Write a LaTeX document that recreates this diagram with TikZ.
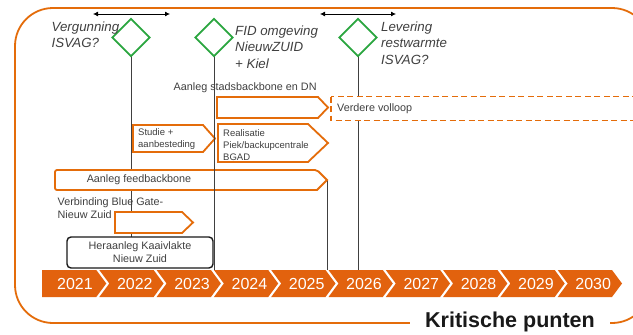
\documentclass[tikz,border=0pt]{standalone}
\usepackage{fontspec}
\setmainfont{Liberation Sans}
\usetikzlibrary{shapes.geometric,arrows.meta}
\definecolor{ora}{HTML}{E46C0A}
\definecolor{tlc}{HTML}{E2620E}
\definecolor{grn}{HTML}{2BA640}
\definecolor{txt}{HTML}{404040}
\definecolor{vline}{HTML}{404040}
\newcommand\myarrowbox[5]{%
  \draw[box] (#1,#2) -- ({#3-#5},#2) -- (#3,{(#2+#4)/2}) -- ({#3-#5},#4) -- (#1,#4) -- cycle;}
\begin{document}
\begin{tikzpicture}[x=1pt,y=-1pt,
  box/.style={draw=ora,line width=1.8pt,fill=white,line join=miter},
  ms/.style={draw=grn,line width=1.8pt,shape=diamond,minimum width=38pt,minimum height=38pt,inner sep=0pt,fill=white},
  vl/.style={draw=vline,line width=0.9pt},
  lbl/.style={text=txt,inner sep=0pt,align=left,font=\fontsize{9.5}{12}\selectfont},
  lblm/.style={text=txt,inner sep=0pt,align=left,font=\fontsize{10.8}{13}\selectfont},
  ital/.style={text=txt,inner sep=0pt,align=left,font=\fontsize{13.3}{16.3}\selectfont\itshape},
  year/.style={text=white,inner sep=0pt,font=\fontsize{16}{18}\selectfont},
  dbl/.style={draw=black,line width=0.8pt,{Latex[length=5pt,width=5pt]}-{Latex[length=5pt,width=5pt]}}
]
\useasboundingbox (0,0) rectangle (633,335);
\clip (0,0) rectangle (633,335);
\fill[white] (0,0) rectangle (633,335);
% outer frame
\draw[ora,line width=1.8pt,rounded corners=38pt] (15,8) rectangle (650,323);
% coordinates
\coordinate (tltop) at (0,270);
% diamonds (positions)
\path (131,37.5) coordinate (c1) (214,37.5) coordinate (c2) (358,37.5) coordinate (c3);
% vertical lines behind the boxes
\draw[vl] (c1) -- (131,237);
\draw[vl] (c3) -- (c3 |- tltop);
\coordinate (fbtip) at (327,180);
\draw[vl] (fbtip) -- (fbtip |- tltop);
% boxes
\myarrowbox{217}{97}{328}{118}{10}
\draw[box,dashed,dash pattern=on 6pt off 3.5pt] (331,96.5) rectangle (660,120.5);
\myarrowbox{133}{125}{215}{152}{12}
\myarrowbox{218}{124}{328}{162}{20}
\draw[box,rounded corners=2pt] (55,170) -- (317,170) [sharp corners] -- (327,180) -- (317,190) [rounded corners=2pt] -- (55,190) -- cycle;
\myarrowbox{115}{212}{193}{233}{11}
\draw[black!90,line width=1.4pt,rounded corners=4pt,fill=white] (67,237) rectangle (213,268);
\node[inner sep=0pt] (her) at (140,252.5) {};
% line 2 on top
\draw[vl] (c2) -- (c2 |- tltop);
% diamonds
\node[ms] (d1) at (c1) {};
\node[ms] (d2) at (c2) {};
\node[ms] (d3) at (c3) {};
% double arrows
\coordinate (a1) at (93,14); \coordinate (a2) at (170,14);
\coordinate (b1) at (320,14); \coordinate (b2) at (396,14);
\draw[dbl] (a1) -- (a2);
\draw[dbl] (b1) -- (b2);
% timeline
\foreach \i in {0,...,9}{
  \pgfmathsetmacro\xa{42+57.3*\i}
  \pgfmathtruncatemacro\yr{2021+\i}
  \ifnum\i=0 \def\nd{0}\else\def\nd{10}\fi
  \fill[tlc] (\xa,270) -- ({\xa+54.3},270) -- ({\xa+64.3},283.5) -- ({\xa+54.3},297) -- (\xa,297) -- ({\xa+\nd},283.5) -- cycle;
  \node[year] (y\yr) at ({\xa+33+0.25*\nd},283.5) {\yr};
}
% texts
\node[ital,anchor=west] (t1) at (51.5,35) {Vergunning\\ISVAG?};
\node[ital,anchor=west] (t2) at (235,47) {FID omgeving\\NieuwZUID\\+ Kiel};
\node[ital,anchor=west] (t3) at (381,43) {Levering\\restwarmte\\ISVAG?};
\node[lblm,anchor=west] (t4) at (173.5,88) {Aanleg stadsbackbone en DN};
\node[lblm,anchor=west] (t5) at (337,108.5) {Verdere volloop};
\node[lbl,anchor=west] (t6) at (138,139) {Studie +\\aanbesteding};
\node[lbl,anchor=west] (t7) at (223,145) {Realisatie\\Piek/backupcentrale\\BGAD};
\node[lblm] (t8) at (139,180) {Aanleg feedbackbone};
\node[lblm,anchor=west] (t9) at (57.5,208.5) {Verbinding Blue Gate-\\Nieuw Zuid};
\node[lblm,align=center] (t10) at (140,252.5) {Heraanleg Kaaivlakte\\Nieuw Zuid};
\node[fill=white,inner sep=0pt,minimum width=200pt,minimum height=22pt,text=black!90,font=\fontsize{21.5}{24}\selectfont\bfseries] (kp) at (510,322) {Kritische punten};
\end{tikzpicture}
\end{document}
